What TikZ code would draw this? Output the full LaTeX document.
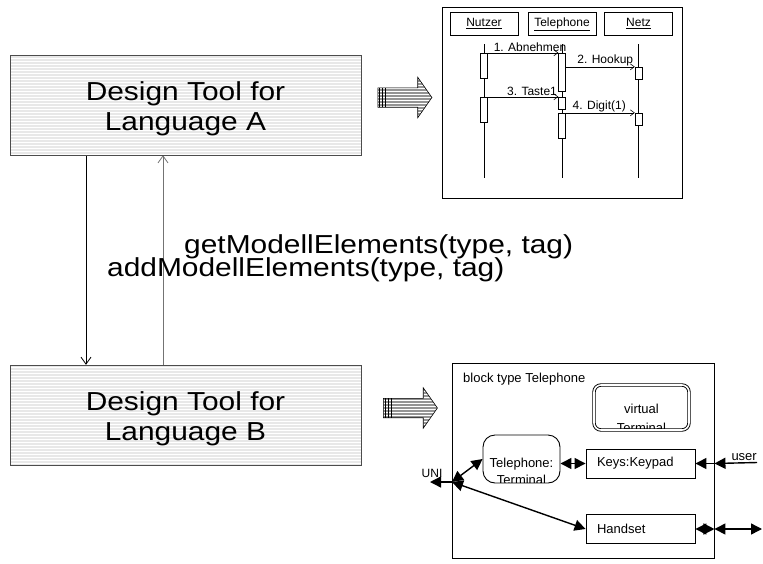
\documentclass[tikz,border=0pt]{standalone}
\usepackage{fontspec}
\setmainfont{Liberation Sans}
\newfontfamily\widefont[FakeStretch=1.15]{Liberation Sans}
\usetikzlibrary{arrows.meta,patterns,shapes.arrows}
\pgfdeclarelayer{edgelayer}
\pgfdeclarelayer{nodelayer}
\pgfsetlayers{edgelayer,nodelayer,main}
\tikzset{font=\fontsize{13}{15}\selectfont}
\tikzset{tri/.tip={Triangle[length=11pt,width=11pt]}}
\tikzset{barb/.tip={Straight Barb[length=4pt,width=6pt]}}
\tikzset{bigbarb/.tip={Straight Barb[length=7pt,width=10pt]}}
\tikzstyle{none}=[inner sep=0pt]
\tikzstyle{tool}=[fill=black!9, postaction={pattern=horizontal lines, pattern color=white}, postaction={draw=black!70, line width=0.8pt}, minimum width=351pt, minimum height=100pt, text height=55pt, text depth=5pt, align=center, font=\widefont\fontsize{26}{30}\selectfont]
\tikzstyle{call}=[inner sep=0pt, font=\widefont\fontsize{26}{30}\selectfont]
\tikzstyle{callarrow}=[line width=0.8pt, -bigbarb]
\tikzstyle{bigarrow}=[single arrow, fill=black!42, postaction={pattern=horizontal lines, pattern color=white}, postaction={draw, line width=0.6pt}, minimum height=54pt, inner xsep=0pt, inner ysep=9.5pt, single arrow head extend=10.5pt, single arrow tip angle=110]
\tikzstyle{lifehead}=[draw, minimum width=68pt, minimum height=23pt, text height=9pt, text depth=3pt, font=\fontsize{12}{14}\selectfont]
\tikzstyle{act}=[draw, fill=white, minimum width=7pt, inner sep=0pt]
\tikzstyle{msg}=[line width=0.6pt, -barb]
\tikzstyle{lbl}=[inner sep=1pt, font=\fontsize{12}{14}\selectfont]
\tikzstyle{blockpart}=[draw, line width=0.9pt, fill=white, text width=87pt, inner xsep=11pt, minimum height=29pt, align=left]
\tikzstyle{procbox}=[draw, line width=0.9pt, fill=white, rounded corners=12pt, minimum width=77pt, minimum height=48pt]
\tikzstyle{virt}=[draw, double, double distance=1.6pt, line width=0.9pt, rounded corners=7pt, minimum width=95pt, minimum height=45pt]
\tikzstyle{chan}=[line width=1.4pt]

\begin{document}
\begin{tikzpicture}[x=1pt,y=-1pt]
	\useasboundingbox (0,0) rectangle (763,563);
	\begin{pgfonlayer}{nodelayer}
		% the two design tools and the interface between them
		\node [style=tool] (toola) at (185.5,105) {Design Tool for\\Language A};
		\node [style=tool] (toolb) at (185.5,415) {Design Tool for\\Language B};
		\node [style=call, anchor=base west] (get) at (184,253) {getModellElements(type, tag)};
		\node [style=call, anchor=base west] (add) at (107,276) {addModellElements(type, tag)};
		\coordinate (dn) at (86,0);
		\coordinate (up) at (163,0);
		\node [style=bigarrow] (fata) at (401.5,97.5) {};
		\node [style=bigarrow] (fatb) at (407,408) {};

		% sequence chart
		\node [draw, minimum width=240pt, minimum height=191pt] (seq) at (562,102.5) {};
		\node [style=lifehead] (nutzer) at (484,23.5) {\underline{Nutzer}};
		\node [style=lifehead] (tel) at (562,23.5) {\underline{Telephone}};
		\node [style=lifehead] (netz) at (638.5,23.5) {\underline{Netz}};
		\node [style=act, minimum height=25pt] (n1) at (484,65.5) {};
		\node [style=act, minimum height=25pt] (n2) at (484,109.5) {};
		\node [style=act, minimum height=38pt] (t1) at (562,72) {};
		\node [style=act, minimum height=12pt] (t2) at (562,103) {};
		\node [style=act, minimum height=25pt] (t3) at (562,125.5) {};
		\node [style=act, minimum height=12pt] (z1) at (638.5,73) {};
		\node [style=act, minimum height=12pt] (z2) at (638.5,119) {};

		% block diagram
		\node [draw, line width=0.9pt, minimum width=262pt, minimum height=195pt] (blk) at (583,460.5) {};
		\node [style=none, anchor=base west] (blkname) at (463,382) {block type Telephone};
		\node [style=virt] (vterm) at (641.5,407.5) {};
		\node [style=procbox] (term) at (521.5,459) {};
		\node [style=blockpart] (keys) at (640.5,463.5) {Keys:Keypad};
		\node [style=blockpart] (hand) at (640.5,529) {Handset};
		\node [style=none, anchor=base east] (user) at (757,460) {user};
		\node [style=none, font=\fontsize{12}{14}\selectfont] (unilbl) at (432,473) {UNI};
		\coordinate (uni) at (452,482);
		\coordinate (unil) at (430,482);
		\coordinate (usr) at (757,462.5);
		\coordinate (hset) at (762,529);
	\end{pgfonlayer}
	\begin{pgfonlayer}{edgelayer}
		\draw[style=callarrow] (toola.south -| dn) to (toolb.north -| dn);
		\draw[style=callarrow, draw=black!55] (toolb.north -| up) to (toola.south -| up);

		\draw[line width=0.6pt] ([yshift=-9pt]nutzer.south) to ([yshift=-143pt]nutzer.south);
		\draw[line width=0.6pt] ([yshift=-9pt]tel.south) to ([yshift=-143pt]tel.south);
		\draw[line width=0.6pt] ([yshift=-9pt]netz.south) to ([yshift=-143pt]netz.south);
		\draw[style=msg] (n1.north east) to node[style=lbl, above, xshift=7pt] {1. Abnehmen} (t1.north west);
		\draw[style=msg] (t1.east |- z1.north) to node[style=lbl, above, xshift=5pt] {2. Hookup} (z1.north west);
		\draw[style=msg] (n2.north east) to node[style=lbl, above, xshift=9pt] {3. Taste1} (t2.north west);
		\draw[style=msg] (t3.north east) to node[style=lbl, above, xshift=-1pt] {4. Digit(1)} (z2.north west);

		\draw[style=chan, tri-tri] (uni) to (term.west);
		\draw[style=chan, tri-tri] (uni) to (hand.west);
		\draw[style=chan, -tri] (uni) to (unil);
		\draw[style=chan, tri-tri] (keys.west -| term.east) to (keys.west);
		\draw[style=chan, tri-] (keys.east) to (keys.east -| blk.east);
		\draw[style=chan, tri-] (keys.east -| blk.east) to (usr);
		\draw[style=chan, tri-tri] (hand.east) to (hand.east -| blk.east);
		\draw[style=chan, tri-tri] (hand.east -| blk.east) to (hset);
	\end{pgfonlayer}

	% striped tails of the fat arrows
	\draw[line width=0.5pt] ([xshift=2pt]fata.before tail) to ([xshift=2pt]fata.after tail);
	\draw[line width=0.5pt] ([xshift=5pt]fata.before tail) to ([xshift=5pt]fata.after tail);
	\draw[line width=0.5pt] ([xshift=8pt]fata.before tail) to ([xshift=8pt]fata.after tail);
	\draw[line width=0.5pt] ([xshift=2pt]fatb.before tail) to ([xshift=2pt]fatb.after tail);
	\draw[line width=0.5pt] ([xshift=5pt]fatb.before tail) to ([xshift=5pt]fatb.after tail);
	\draw[line width=0.5pt] ([xshift=8pt]fatb.before tail) to ([xshift=8pt]fatb.after tail);

	% labels that run past the bottom of their boxes
	\begin{scope}
		\clip ([shift={(2pt,2pt)}]vterm.south west) rectangle ([shift={(-2pt,-2pt)}]vterm.north east);
		\node [align=center, font=\fontsize{13}{19}\selectfont] (vtext) at ([yshift=-11pt]vterm.center) {virtual\\Terminal};
	\end{scope}
	\begin{scope}
		\clip ([shift={(1pt,1pt)}]term.south west) rectangle ([shift={(-1pt,-1pt)}]term.north east);
		\node [align=center, font=\fontsize{13}{17}\selectfont] (ttext) at ([yshift=-12.5pt]term.center) {Telephone:\\Terminal};
	\end{scope}
\end{tikzpicture}
\end{document}
